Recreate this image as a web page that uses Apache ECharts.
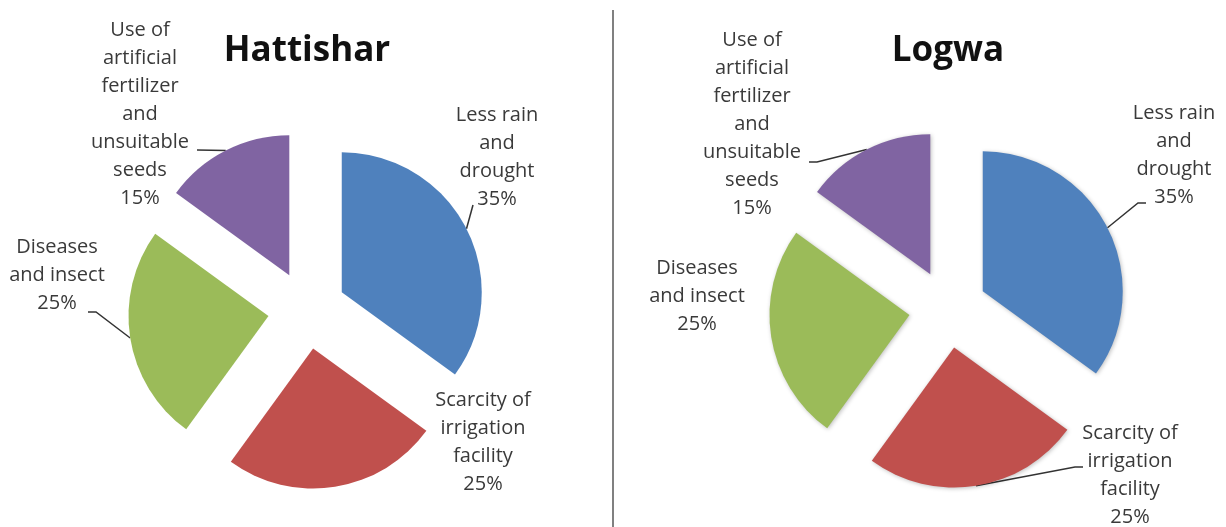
<!DOCTYPE html>
<html>
<head>
<meta charset="utf-8">
<script src="https://cdn.jsdelivr.net/npm/echarts@6/dist/echarts.min.js"></script>
<style>
  html, body { margin: 0; padding: 0; background: #ffffff; }
  #chart { width: 1226px; height: 527px; }
</style>
</head>
<body>
<div id="chart"></div>
<script>
// ---- data ----
const categories = [
  "Less rain\nand\ndrought",
  "Scarcity of\nirrigation\nfacility",
  "Diseases\nand insect",
  "Use of\nartificial\nfertilizer\nand\nunsuitable\nseeds"
];
const hattisharValues = [35, 25, 25, 15];
const logwaValues = [35, 25, 25, 15];
const chartTitles = ["Hattishar", "Logwa"];

// ---- style / layout ----
const sliceColors = ["#4F81BD", "#C0504D", "#9BBB59", "#8064A2"];
const pieCenters = [[307, 310], [948, 309]];
const titleX = [307, 948];
const pieRadius = 140;
const explode = 39;
// label block centres
const labelPos = [
  [[497, 157], [483, 442], [57, 275], [140, 114]],
  [[1174, 155], [1130, 475], [697, 296], [752, 124]]
];
// leader line: [end point at label, horizontal elbow length] (null = no leader)
const leaderEnd = [
  [[[473, 205], 0], null, [[88, 312], 8], [[197, 150], 0]],
  [[[1146, 203], -8], [[1083, 467], -8], null, [[809, 162], 8]]
];

// anchor on the exploded slice's arc, at the slice's mid angle
function anchorPoint(values, s, i) {
  const total = values.reduce((a, b) => a + b, 0);
  let cum = 0;
  for (let k = 0; k < i; k++) cum += values[k];
  const mid = (cum + values[i] / 2) / total * 2 * Math.PI;
  const c = pieCenters[s];
  const d = explode + pieRadius;
  return [c[0] + d * Math.sin(mid), c[1] - d * Math.cos(mid)];
}

// visible, exploded slices
function sliceSeries(values, s) {
  return {
    type: 'pie',
    center: pieCenters[s],
    radius: pieRadius,
    startAngle: 90,
    clockwise: true,
    selectedMode: 'multiple',
    selectedOffset: explode,
    emphasis: { disabled: true },
    silent: true,
    itemStyle: s === 1 ? {
      shadowBlur: 4, shadowColor: 'rgba(0,0,0,0.25)', shadowOffsetX: 1, shadowOffsetY: 1
    } : {},
    label: { show: false },
    labelLine: { show: false },
    data: values.map((v, i) => ({
      name: categories[i], value: v, selected: true,
      itemStyle: { color: sliceColors[i] }
    }))
  };
}

// transparent twin that carries the data labels and leader lines
function labelSeries(values, s) {
  return {
    type: 'pie',
    center: pieCenters[s],
    radius: pieRadius,
    startAngle: 90,
    clockwise: true,
    silent: true,
    avoidLabelOverlap: false,
    emphasis: { disabled: true },
    itemStyle: { color: 'rgba(0,0,0,0)' },
    label: {
      show: true,
      position: 'outside',
      formatter: '{b}\n{c}%',
      fontFamily: 'Open Sans',
      fontSize: 20,
      lineHeight: 28,
      color: '#3a3a3a',
      align: 'center'
    },
    labelLine: {
      show: true,
      smooth: false,
      lineStyle: { color: '#333333', width: 1.5 }
    },
    labelLayout: function (params) {
      const i = params.dataIndex;
      const p = labelPos[s][i];
      const out = { x: p[0], y: p[1], align: 'center', verticalAlign: 'middle' };
      const le = leaderEnd[s][i];
      if (le) {
        const a = anchorPoint(values, s, i);
        const end = le[0];
        out.labelLinePoints = [a, [end[0] + le[1], end[1]], end];
      }
      return out;
    },
    data: values.map((v, i) => ({
      name: categories[i], value: v,
      labelLine: { show: leaderEnd[s][i] !== null }
    }))
  };
}

const chart = echarts.init(document.getElementById('chart'), null, { renderer: 'canvas' });
chart.setOption({
  animation: false,
  backgroundColor: '#ffffff',
  title: chartTitles.map((t, s) => ({
    text: t,
    left: titleX[s],
    top: 51,
    padding: 0,
    textAlign: 'center',
    textVerticalAlign: 'middle',
    textStyle: { fontFamily: 'Open Sans', fontWeight: 'bold', fontSize: 35, color: '#111111' }
  })),
  graphic: [{
    type: 'line',
    shape: { x1: 613, y1: 10, x2: 613, y2: 527 },
    style: { stroke: '#808080', lineWidth: 2 },
    silent: true
  }],
  series: [
    sliceSeries(hattisharValues, 0), sliceSeries(logwaValues, 1),
    labelSeries(hattisharValues, 0), labelSeries(logwaValues, 1)
  ]
});
</script>
</body>
</html>
